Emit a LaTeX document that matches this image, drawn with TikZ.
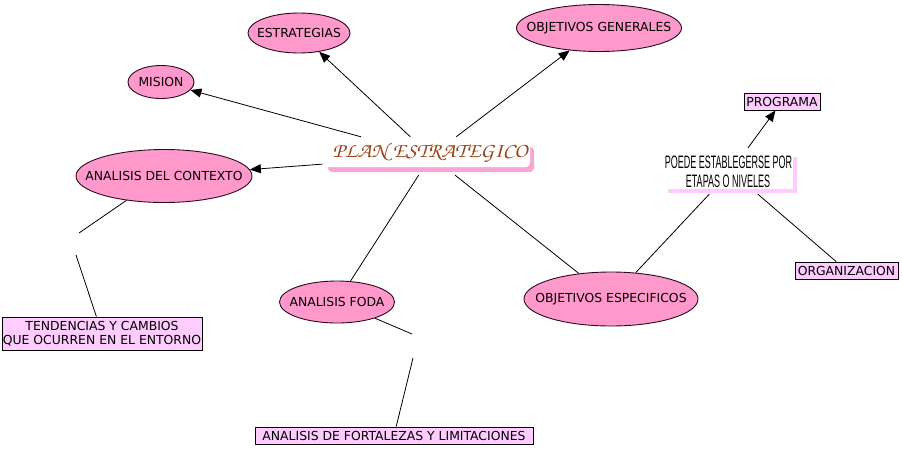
\documentclass[tikz,border=0pt]{standalone}
\usepackage{fontspec}
\usepackage{graphicx}
\setmainfont{DejaVu Sans}
\newfontfamily\scriptfnt{texgyrechorus-mediumitalic.otf}
\newfontfamily\narrowfnt{Liberation Sans}
\usetikzlibrary{shapes.geometric,arrows.meta}
\definecolor{ovalfill}{HTML}{FF99CC}
\definecolor{ovalborder}{HTML}{2A0A1E}
\definecolor{boxfill}{HTML}{FFCCFF}
\definecolor{shadowpink}{HTML}{F7A6D6}
\definecolor{shadowlight}{HTML}{FFCCFF}
\definecolor{planbrown}{HTML}{9A4418}
\newcommand{\lblfont}{\fontsize{12.4}{14}\selectfont}
\newcommand{\zw}[1]{\makebox[0pt]{#1}}
\tikzset{
  oval/.style={ellipse, draw=ovalborder, line width=0.9pt, fill=ovalfill, inner sep=0pt, font=\lblfont, text=black},
  pbox/.style={rectangle, draw=black, line width=0.9pt, fill=boxfill, inner sep=0pt, font=\lblfont, text=black, align=center},
  hub/.style={rectangle, inner sep=0pt},
  conn/.style={draw=black, line width=0.8pt},
  arr/.style={conn, -{Triangle[length=11pt,width=9pt]}}
}
\begin{document}
\begin{tikzpicture}[x=1pt,y=-1pt]
\useasboundingbox (0,0) rectangle (902,448);
% ---- hub visuals
\fill[shadowpink, rounded corners=4pt] (328,147) rectangle (534,172);
\fill[white, rounded corners=4pt] (324,142) rectangle (530,167);
\node[hub, minimum width=217pt, minimum height=38pt] (plan) at (431,156) {};
\node[inner sep=0pt, text=planbrown] (plantxt) at (430,153)
  {\resizebox{195pt}{14pt}{\scriptfnt\bfseries PLAN ESTRATEGICO}};
\fill[shadowlight] (668,157) rectangle (797,193);
\fill[white] (664,152) rectangle (793,189);
\node[hub, minimum width=134pt, minimum height=46pt] (poede) at (731,171) {};
\node[inner sep=0pt] (poedet1) at (728.5,162) {\scalebox{0.5}[1]{\narrowfnt\fontsize{18}{18}\selectfont POEDE ESTABLEGERSE POR}};
\node[inner sep=0pt] (poedet2) at (728,181) {\scalebox{0.5}[1]{\narrowfnt\fontsize{18}{18}\selectfont ETAPAS O NIVELES}};
% ---- ovals
\node[oval, minimum width=102pt, minimum height=40pt] (estr) at (299,33) {\zw{ESTRATEGIAS}};
\node[oval, minimum width=66pt, minimum height=33pt] (mision) at (161,82) {\zw{MISION}};
\node[oval, minimum width=165pt, minimum height=47pt] (objgen) at (599,28) {\zw{OBJETIVOS GENERALES}};
\node[oval, minimum width=176pt, minimum height=53pt] (ctx) at (164,176) {\zw{ANALISIS DEL CONTEXTO}};
\node[oval, minimum width=115pt, minimum height=42pt] (foda) at (337,302) {\zw{ANALISIS FODA}};
\node[oval, minimum width=174pt, minimum height=54pt] (objesp) at (611,299) {\zw{OBJETIVOS ESPECIFICOS}};
% ---- boxes
\node[pbox, minimum width=76pt, minimum height=17pt] (prog) at (782,101.5) {PROGRAMA};
\node[pbox, minimum width=103pt, minimum height=17pt] (org) at (846.5,270.5) {ORGANIZACION};
\node[pbox, minimum width=200pt, minimum height=33pt] (tend) at (102,333.5) {TENDENCIAS Y CAMBIOS\\QUE OCURREN EN EL ENTORNO};
\node[pbox, minimum width=278pt, minimum height=17pt] (fort) at (394,435.5) {ANALISIS DE FORTALEZAS Y LIMITACIONES};
% ---- gap coordinates
\coordinate (g1a) at (79,233);
\coordinate (g1b) at (76,255);
\coordinate (g2a) at (412,334);
\coordinate (g2b) at (413,358);
% ---- connectors
\draw[arr] (plan) -- (mision);
\draw[arr] (plan) -- (estr);
\draw[arr] (plan) -- (objgen);
\draw[arr] (plan) -- (ctx);
\draw[conn] (plan) -- (foda);
\draw[conn] (plan) -- (objesp);
\draw[conn] (objesp) -- (poede);
\draw[arr] (poede) -- (prog);
\draw[conn] (poede) -- (org);
\draw[conn] (ctx.213) -- (g1a);
\draw[conn] (g1b) -- (tend);
\draw[conn] (foda) -- (g2a);
\draw[conn] (g2b) -- (fort);
\end{tikzpicture}
\end{document}
